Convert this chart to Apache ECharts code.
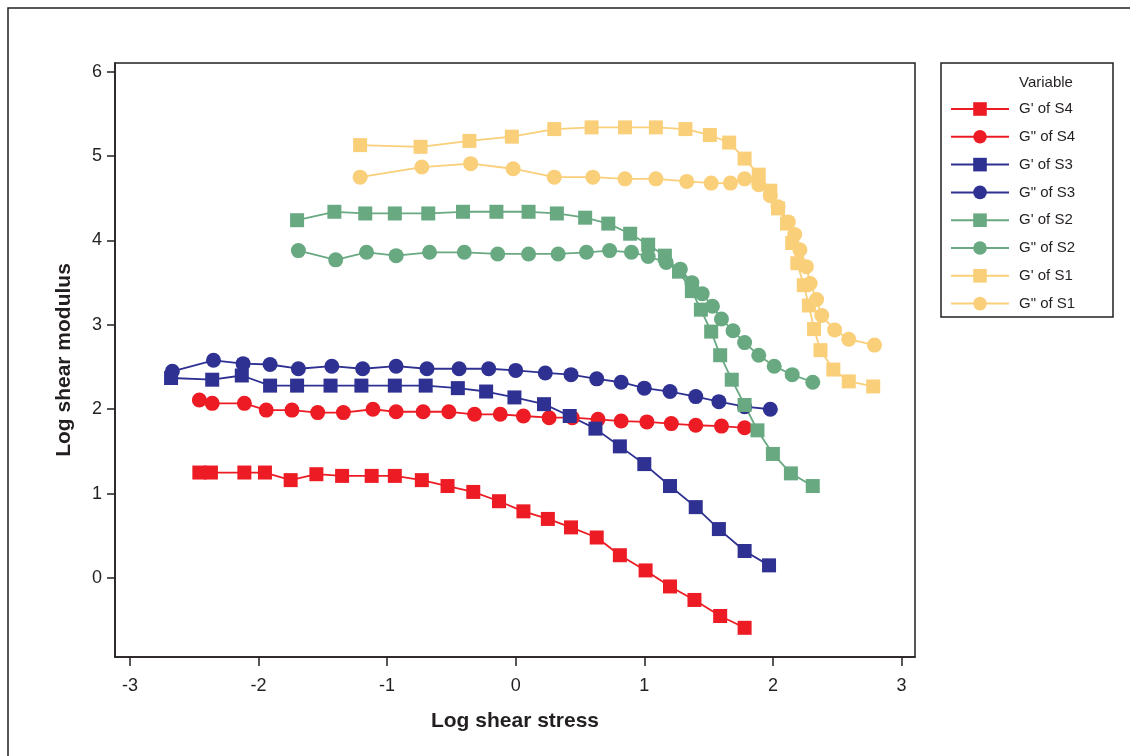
<!DOCTYPE html>
<html>
<head>
<meta charset="utf-8">
<title>Log shear modulus vs log shear stress</title>
<script src="https://cdn.jsdelivr.net/npm/echarts@6/dist/echarts.min.js"></script>
<style>
  html, body { margin: 0; padding: 0; background: #fff; }
  #chart { width: 1130px; height: 756px; }
</style>
</head>
<body>
<div id="chart"></div>
<script>
// x = log shear stress, y = log shear modulus
const s4StoreX = [-2.46, -2.37, -2.11, -1.95, -1.75, -1.55, -1.35, -1.12, -0.94, -0.73, -0.53, -0.33, -0.13, 0.06, 0.25, 0.43, 0.63, 0.81, 1.01, 1.20, 1.39, 1.59, 1.78]
const s4StoreY = [1.25, 1.25, 1.25, 1.25, 1.16, 1.23, 1.21, 1.21, 1.21, 1.16, 1.09, 1.02, 0.91, 0.79, 0.70, 0.60, 0.48, 0.27, 0.09, -0.10, -0.26, -0.45, -0.59]
const s4LossX = [-2.46, -2.36, -2.11, -1.94, -1.74, -1.54, -1.34, -1.11, -0.93, -0.72, -0.52, -0.32, -0.12, 0.06, 0.26, 0.44, 0.64, 0.82, 1.02, 1.21, 1.40, 1.60, 1.78]
const s4LossY = [2.11, 2.07, 2.07, 1.99, 1.99, 1.96, 1.96, 2.00, 1.97, 1.97, 1.97, 1.94, 1.94, 1.92, 1.90, 1.90, 1.88, 1.86, 1.85, 1.83, 1.81, 1.80, 1.78]

const s3StoreX = [-2.68, -2.36, -2.13, -1.91, -1.70, -1.44, -1.20, -0.94, -0.70, -0.45, -0.23, -0.01, 0.22, 0.42, 0.62, 0.81, 1.00, 1.20, 1.40, 1.58, 1.78, 1.97]
const s3StoreY = [2.37, 2.35, 2.40, 2.28, 2.28, 2.28, 2.28, 2.28, 2.28, 2.25, 2.21, 2.14, 2.06, 1.92, 1.77, 1.56, 1.35, 1.09, 0.84, 0.58, 0.32, 0.15]
const s3LossX = [-2.67, -2.35, -2.12, -1.91, -1.69, -1.43, -1.19, -0.93, -0.69, -0.44, -0.21, 0.00, 0.23, 0.43, 0.63, 0.82, 1.00, 1.20, 1.40, 1.58, 1.78, 1.98]
const s3LossY = [2.45, 2.58, 2.54, 2.53, 2.48, 2.51, 2.48, 2.51, 2.48, 2.48, 2.48, 2.46, 2.43, 2.41, 2.36, 2.32, 2.25, 2.21, 2.15, 2.09, 2.03, 2.00]

const s2StoreX = [-1.70, -1.41, -1.17, -0.94, -0.68, -0.41, -0.15, 0.10, 0.32, 0.54, 0.72, 0.89, 1.03, 1.16, 1.27, 1.37, 1.44, 1.52, 1.59, 1.68, 1.78, 1.88, 2.00, 2.14, 2.31]
const s2StoreY = [4.24, 4.34, 4.32, 4.32, 4.32, 4.34, 4.34, 4.34, 4.32, 4.27, 4.20, 4.08, 3.95, 3.82, 3.63, 3.40, 3.18, 2.92, 2.64, 2.35, 2.05, 1.75, 1.47, 1.24, 1.09]
const s2LossX = [-1.69, -1.40, -1.16, -0.93, -0.67, -0.40, -0.14, 0.10, 0.33, 0.55, 0.73, 0.90, 1.03, 1.17, 1.28, 1.37, 1.45, 1.53, 1.60, 1.69, 1.78, 1.89, 2.01, 2.15, 2.31]
const s2LossY = [3.88, 3.77, 3.86, 3.82, 3.86, 3.86, 3.84, 3.84, 3.84, 3.86, 3.88, 3.86, 3.81, 3.74, 3.66, 3.50, 3.37, 3.22, 3.07, 2.93, 2.79, 2.64, 2.51, 2.41, 2.32]

const s1StoreX = [-1.21, -0.74, -0.36, -0.03, 0.30, 0.59, 0.85, 1.09, 1.32, 1.51, 1.66, 1.78, 1.89, 1.98, 2.04, 2.11, 2.15, 2.19, 2.24, 2.28, 2.32, 2.37, 2.47, 2.59, 2.78]
const s1StoreY = [5.13, 5.11, 5.18, 5.23, 5.32, 5.34, 5.34, 5.34, 5.32, 5.25, 5.16, 4.97, 4.78, 4.59, 4.38, 4.20, 3.97, 3.73, 3.47, 3.23, 2.95, 2.70, 2.47, 2.33, 2.27]
const s1LossX = [-1.21, -0.73, -0.35, -0.02, 0.30, 0.60, 0.85, 1.09, 1.33, 1.52, 1.67, 1.78, 1.89, 1.98, 2.04, 2.12, 2.17, 2.21, 2.26, 2.29, 2.34, 2.38, 2.48, 2.59, 2.79]
const s1LossY = [4.75, 4.87, 4.91, 4.85, 4.75, 4.75, 4.73, 4.73, 4.70, 4.68, 4.68, 4.73, 4.66, 4.53, 4.40, 4.22, 4.07, 3.89, 3.69, 3.49, 3.30, 3.11, 2.94, 2.83, 2.76]

const xTicks = [-3, -2, -1, 0, 1, 2, 3]
const yTicks = [0, 1, 2, 3, 4, 5, 6]

const seriesNames = ["G' of S4", 'G" of S4', "G' of S3", 'G" of S3', "G' of S2", 'G" of S2', "G' of S1", 'G" of S1']
const seriesColors = ['#ed1c24', '#ed1c24', '#2e3192', '#2e3192', '#68a982', '#68a982', '#facf7a', '#facf7a']
const seriesX = [s4StoreX, s4LossX, s3StoreX, s3LossX, s2StoreX, s2LossX, s1StoreX, s1LossX]
const seriesY = [s4StoreY, s4LossY, s3StoreY, s3LossY, s2StoreY, s2LossY, s1StoreY, s1LossY]

const FONT = '"Liberation Sans", Arial, sans-serif'
const INK = '#231f20'

const series = seriesNames.map((name, i) => ({
  name: name,
  type: 'line',
  data: seriesX[i].map((x, k) => [x, seriesY[i][k]]),
  symbol: i % 2 === 0 ? 'rect' : 'circle',
  symbolSize: i % 2 === 0 ? 14 : 15,
  color: seriesColors[i],
  lineStyle: { width: 1.8, color: seriesColors[i] },
  itemStyle: { color: seriesColors[i], opacity: 1 },
  emphasis: { disabled: true },
  animation: false
}))

const chart = echarts.init(document.getElementById('chart'))
chart.setOption({
  backgroundColor: '#fff',
  animation: false,
  grid: {
    left: 115,
    right: 215,
    top: 63,
    bottom: 99,
    show: true,
    borderColor: INK,
    borderWidth: 1.5
  },
  xAxis: {
    type: 'value',
    min: -3.116,
    max: 3.105,
    name: 'Log shear stress',
    nameLocation: 'middle',
    nameGap: 54,
    nameTextStyle: { fontFamily: FONT, fontSize: 21, fontWeight: 'bold', color: INK },
    axisLine: { show: true, onZero: false, lineStyle: { color: INK, width: 1.5 } },
    axisTick: { show: true, inside: false, length: 9, customValues: xTicks, lineStyle: { color: INK, width: 1.5 } },
    axisLabel: { customValues: xTicks, margin: 20, fontFamily: FONT, fontSize: 18, color: INK },
    splitLine: { show: false }
  },
  yAxis: {
    type: 'value',
    min: -0.936,
    max: 6.103,
    name: 'Log shear modulus',
    nameLocation: 'middle',
    nameGap: 40,
    nameTextStyle: { fontFamily: FONT, fontSize: 21, fontWeight: 'bold', color: INK },
    axisLine: { show: true, onZero: false, lineStyle: { color: INK, width: 1.5 } },
    axisTick: { show: true, inside: false, length: 8, customValues: yTicks, lineStyle: { color: INK, width: 1.5 } },
    axisLabel: { customValues: yTicks, margin: 13, fontFamily: FONT, fontSize: 18, color: INK },
    splitLine: { show: false }
  },
  legend: {
    orient: 'vertical',
    left: 945,
    top: 96.5,
    itemWidth: 58,
    itemHeight: 17,
    itemGap: 12.8,
    data: seriesNames,
    textStyle: { fontFamily: FONT, fontSize: 15, color: INK, padding: [0, 0, 0, 5] },
    selectedMode: false
  },
  graphic: [
    {
      type: 'rect',
      shape: { x: 8, y: 8, width: 1140, height: 770 },
      style: { fill: 'none', stroke: INK, lineWidth: 1.5 },
      silent: true
    },
    {
      type: 'rect',
      shape: { x: 941, y: 63, width: 172, height: 254 },
      style: { fill: 'none', stroke: INK, lineWidth: 1.5 },
      silent: true
    },
    {
      type: 'text',
      left: 1019,
      top: 75,
      style: { text: 'Variable', font: '15px ' + FONT, fill: INK },
      silent: true
    }
  ],
  series: series
})
</script>
</body>
</html>
